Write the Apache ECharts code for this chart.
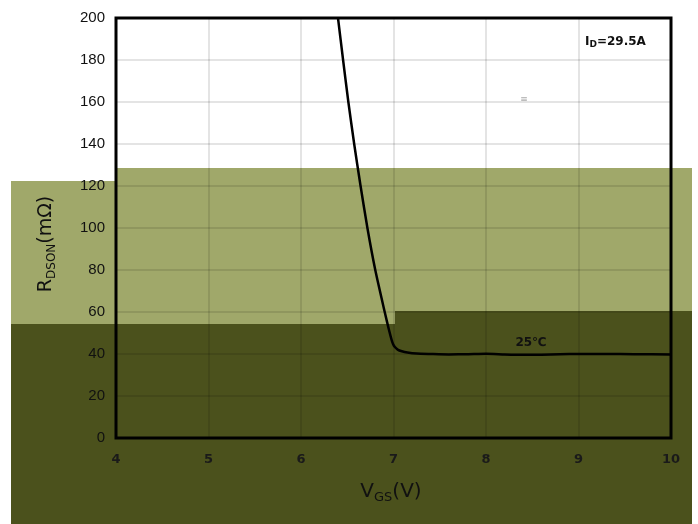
<!DOCTYPE html>
<html>
<head>
<meta charset="utf-8">
<script src="https://cdn.jsdelivr.net/npm/echarts@6/dist/echarts.min.js"></script>
<style>html,body{margin:0;padding:0;background:#fff}#c{width:698px;height:524px}</style>
</head>
<body>
<div id="c"></div>
<script>
// Data
var vgs = [6.40, 6.455, 6.512, 6.575, 6.644, 6.718, 6.803, 6.905, 6.948, 6.978, 6.995, 7.015, 7.045, 7.09, 7.15, 7.25, 7.40, 7.60, 7.80, 8.00, 8.20, 8.40, 8.60, 8.80, 9.00, 9.30, 9.60, 10.0];
var rdson = [200, 180, 160, 140, 120, 100, 80, 60, 52, 47, 44.8, 43.3, 42.1, 41.3, 40.7, 40.2, 40.0, 39.8, 39.9, 40.1, 39.8, 39.6, 39.7, 39.9, 40.0, 40.0, 39.9, 39.8];
var xTicks = [4, 5, 6, 7, 8, 9, 10];
var yTicks = [0, 20, 40, 60, 80, 100, 120, 140, 160, 180, 200];
var curveLabel = '25℃';
var condLabel = '=29.5A';

var pts = vgs.map(function (v, i) { return [v, rdson[i]]; });

var LIGHT = '#a0a86a';
var DARK = '#4b511c';

var chart = echarts.init(document.getElementById('c'), null, {renderer: 'canvas'});
chart.setOption({
  animation: false,
  backgroundColor: '#ffffff',
  grid: {left: 116, right: 27, top: 18, bottom: 86, show: true, borderColor: '#000', borderWidth: 3, backgroundColor: 'transparent', z: 3},
  xAxis: {
    type: 'value', min: xTicks[0], max: xTicks[xTicks.length - 1], interval: 1,
    axisLine: {show: false}, axisTick: {show: false},
    axisLabel: {margin: 15, fontSize: 13, fontWeight: 'bold', color: '#1a1a1a', fontFamily: 'DejaVu Sans'},
    splitLine: {show: true, lineStyle: {color: 'rgba(0,0,0,0.14)', width: 1.5}}
  },
  yAxis: {
    type: 'value', min: yTicks[0], max: yTicks[yTicks.length - 1], interval: 20,
    axisLine: {show: false}, axisTick: {show: false},
    axisLabel: {margin: 11, fontSize: 15, color: '#111', fontFamily: 'Liberation Sans'},
    splitLine: {show: true, lineStyle: {color: 'rgba(0,0,0,0.14)', width: 1.5}}
  },
  graphic: [
    {type: 'rect', z: -10, shape: {x: 11, y: 181, width: 105, height: 143}, style: {fill: LIGHT}},
    {type: 'rect', z: -10, shape: {x: 116, y: 168, width: 279, height: 156}, style: {fill: LIGHT}},
    {type: 'rect', z: -10, shape: {x: 395, y: 168, width: 297, height: 143}, style: {fill: LIGHT}},
    {type: 'rect', z: -10, shape: {x: 11, y: 324, width: 384, height: 200}, style: {fill: DARK}},
    {type: 'rect', z: -10, shape: {x: 395, y: 311, width: 297, height: 213}, style: {fill: DARK}},
    {type: 'text', z: 10, x: 46, y: 244, rotation: Math.PI / 2,
      style: {text: '{a|R}{b|DSON}{a|(mΩ)}', align: 'center', verticalAlign: 'middle', fill: '#111',
        rich: {
          a: {fontSize: 19, fontFamily: 'DejaVu Sans', fill: '#111', lineHeight: 23, verticalAlign: 'middle'},
          b: {fontSize: 12, fontFamily: 'DejaVu Sans', fill: '#111', lineHeight: 12, verticalAlign: 'bottom'}
        }}},
    {type: 'text', z: 10, x: 391, y: 492,
      style: {text: '{a|V}{b|GS}{a|(V)}', align: 'center', verticalAlign: 'middle', fill: '#111',
        rich: {
          a: {fontSize: 20, fontFamily: 'DejaVu Sans', fill: '#111', lineHeight: 24, verticalAlign: 'middle'},
          b: {fontSize: 13, fontFamily: 'DejaVu Sans', fill: '#111', lineHeight: 13, verticalAlign: 'bottom'}
        }}},
    {type: 'text', z: 10, x: 585, y: 42,
      style: {text: '{a|I}{b|D}{a|' + condLabel + '}', align: 'left', verticalAlign: 'middle', fill: '#111',
        rich: {
          a: {fontSize: 12, fontWeight: 'bold', fontFamily: 'DejaVu Sans', fill: '#111', lineHeight: 14, verticalAlign: 'middle'},
          b: {fontSize: 9, fontWeight: 'bold', fontFamily: 'DejaVu Sans', fill: '#111', lineHeight: 11, verticalAlign: 'bottom'}
        }}},
    {type: 'text', z: 10, x: 531, y: 343,
      style: {text: curveLabel, align: 'center', verticalAlign: 'middle', fill: '#111', fontSize: 12, fontWeight: 'bold', fontFamily: 'DejaVu Sans'}},
    {type: 'text', z: 10, x: 524, y: 100,
      style: {text: '≡', align: 'center', verticalAlign: 'middle', fill: '#aaa', fontSize: 9, fontFamily: 'DejaVu Sans'}}
  ],
  series: [{
    type: 'line', data: pts, showSymbol: false, smooth: 0.2, clip: true, z: 5,
    lineStyle: {color: '#000', width: 2.5, join: 'round'}
  }]
});
</script>
</body>
</html>
